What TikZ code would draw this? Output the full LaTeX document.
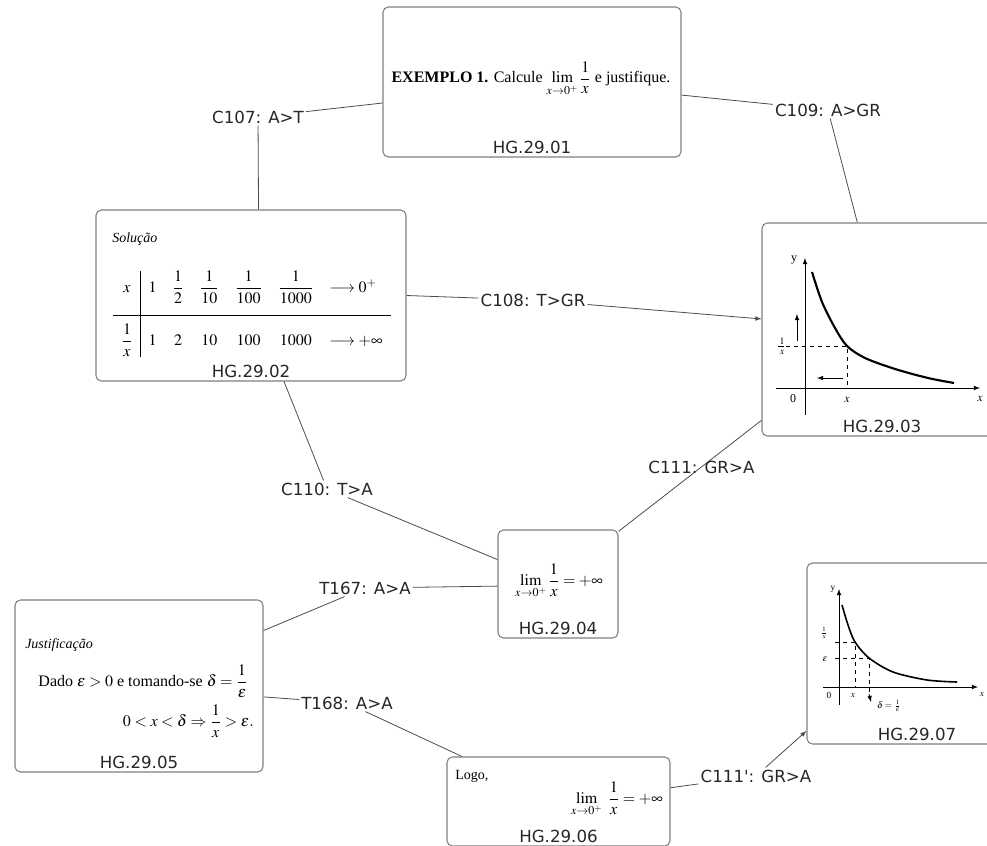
\documentclass[tikz,border=0pt]{standalone}
\usepackage{amsmath,amssymb}
\usepackage{mathptmx}
\usepackage{fontspec}
\setmainfont{Liberation Serif}
\newfontfamily\tagfont[Ligatures=TeXOff]{DejaVu Sans}
\usetikzlibrary{arrows}
\usetikzlibrary{positioning}

\tikzset{
  card/.style={draw=black!50,line width=0.8pt,rounded corners=4pt,inner sep=0pt},
  tag/.style={font=\tagfont\fontsize{12.5}{14}\selectfont,text=black!85,inner sep=2pt},
  link/.style={font=\tagfont\fontsize{12.5}{14}\selectfont,text=black!85,inner sep=1.5pt},
  wire/.style={draw=black!70,line width=0.6pt},
  axis/.style={line width=0.6pt},
  hyp/.style={line width=1.6pt},
  txt/.style={inner sep=0pt,font=\fontsize{#1}{#1}\selectfont},
  txt/.default=10
}

\begin{document}
\begin{tikzpicture}[x=0.75pt,y=-0.75pt,>=latex]
  \useasboundingbox (0,0) rectangle (987,845);

  % the cards
  \node[card,minimum width=223.5pt,minimum height=112.5pt] (hg01) at (532,82) {};
  \node[card,minimum width=232.5pt,minimum height=128.25pt] (hg02) at (251,295.5) {};
  \node[card,minimum width=180pt,minimum height=159.75pt] (hg03) at (882,329.5) {};
  \node[card,minimum width=90pt,minimum height=81pt] (hg04) at (558,584) {};
  \node[card,minimum width=186pt,minimum height=129pt] (hg05) at (139,686) {};
  \node[card,minimum width=167.25pt,minimum height=66.75pt] (hg06) at (558.5,801.5) {};
  \node[card,minimum width=165pt,minimum height=135.75pt] (hg07) at (917,653.5) {};

  \node[tag,above=1pt of hg01.south] (tag01) {HG.29.01};
  \node[tag,above=1pt of hg02.south] (tag02) {HG.29.02};
  \node[tag,above=1pt of hg03.south] (tag03) {HG.29.03};
  \node[tag,above=1pt of hg04.south] (tag04) {HG.29.04};
  \node[tag,above=1pt of hg05.south] (tag05) {HG.29.05};
  \node[tag,above=1pt of hg06.south] (tag06) {HG.29.06};
  \node[tag,above=1pt of hg07.south] (tag07) {HG.29.07};

  % HG.29.01
  \node[txt=12,anchor=base] (ex1) at (531,83)
    {\textbf{EXEMPLO 1.} Calcule $\displaystyle\lim_{x\to 0^{+}}\frac{1}{x}$ e justifique.};

  % HG.29.02
  \node[txt=10.5,anchor=base west] (sol) at (112,242) {\textit{Solução}};
  \node[txt=12] (tab) at (252,314) {\setlength{\arraycolsep}{6pt}%
    $\begin{array}{c|cccccl}
      \rule[-16.5pt]{0pt}{17pt}x & 1 & \dfrac{1}{2} & \dfrac{1}{10} & \dfrac{1}{100} & \dfrac{1}{1000} & \longrightarrow 0^{+}\\
      \hline
      \rule{0pt}{23pt}\dfrac{1}{x} & 1 & 2 & 10 & 100 & 1000 & \longrightarrow +\infty
    \end{array}$};

  % HG.29.03
  \draw[axis,->] (805,415) -- (805,258);
  \draw[axis,->] (776,388) -- (980,388);
  \draw[hyp] plot[smooth] coordinates {(812,272) (822,302) (835,328) (847,346) (865,358) (895,369) (928,378) (954,383)};
  \draw[axis,dashed] (778,346) -- (847,346) -- (847,388);
  \draw[axis,->] (797,341) -- (797,314);
  \draw[axis,->] (843,378) -- (817,378);
  \node[txt=9] (g3y) at (794,260) {y};
  \node[txt=10] (g3inv) at (782,346) {$\frac{1}{x}$};
  \node[txt=9] (g3o) at (793,399) {0};
  \node[txt=9] (g3x) at (847,400) {$x$};
  \node[txt=9] (g3ax) at (980,399) {$x$};

  % HG.29.04
  \node[txt=12] (lim4) at (559,581) {$\displaystyle\lim_{x\to 0^{+}}\frac{1}{x}=+\infty$};

  % HG.29.05
  \node[txt=10.5,anchor=base west] (just) at (25,648) {\textit{Justificação}};
  \node[txt=12,anchor=east] (dado) at (248,681) {Dado $\epsilon>0$ e tomando-se $\delta=\dfrac{1}{\epsilon}$};
  \node[txt=12,anchor=east] (impl) at (254,721) {$0<x<\delta\Rightarrow\dfrac{1}{x}>\epsilon.$};

  % HG.29.06
  \node[txt=10.5,anchor=base west] (logo) at (455,779) {Logo,};
  \node[txt=12,anchor=east] (lim6) at (663,799) {$\displaystyle\lim_{x\to 0^{+}}\ \frac{1}{x}=+\infty$};

  % HG.29.07
  \draw[axis,->] (839,705) -- (839,589);
  \draw[axis,->] (823,687) -- (978,687);
  \draw[hyp,line width=1.2pt] plot[smooth] coordinates {(842,605) (848,625) (855,642) (869,658) (893,672) (927,680) (957,682)};
  \draw[axis,dashed] (835,642) -- (855,642) -- (855,687);
  \draw[axis,dashed] (835,658) -- (869,658) -- (869,697);
  \draw[axis,->] (869,694) -- (871,702);
  \node[txt=7] (g7y) at (833,589) {y};
  \node[txt=7] (g7inv) at (824,633) {$\frac{1}{x}$};
  \node[txt=7] (g7eps) at (825,659) {$\epsilon$};
  \node[txt=7] (g7o) at (829,695) {0};
  \node[txt=7] (g7x) at (853,696) {$x$};
  \node[txt=7] (g7d) at (889,706) {$\delta=\frac{1}{\epsilon}$};
  \node[txt=7] (g7ax) at (982,695) {$x$};

  % connector labels
  \node[link] (c107) at (258,117) {C107: A>T};
  \node[link] (c109) at (828,110) {C109: A>GR};
  \node[link] (c108) at (533,300) {C108: T>GR};
  \node[link] (c110) at (327,489) {C110: T>A};
  \node[link] (t167) at (365,588) {T167: A>A};
  \node[link] (t168) at (347,703) {T168: A>A};
  \node[link] (c111p) at (756,776) {C111': GR>A};

  % connectors
  \draw[wire] (hg01.188) -- (c107) -- (hg02.85);
  \draw[wire] (hg01.355) -- (c109) -- (hg03.103);
  \draw[wire] (hg02.east) -- (c108);
  \draw[wire,->] (c108) -- (hg03.175);
  \draw[wire] (hg02.291) -- (c110) -- (hg04.158);
  \draw[wire] (hg04.41) -- node[link,pos=0.58] (c111) {C111: GR>A} (hg03.217);
  \draw[wire] (hg04.182) -- (t167) -- (hg05.24);
  \draw[wire] (hg05.355) -- (t168) -- (hg06.155);
  \draw[wire] (hg06.7) -- (c111p);
  \draw[wire,->] (c111p) -- (hg07.215);
\end{tikzpicture}
\end{document}
